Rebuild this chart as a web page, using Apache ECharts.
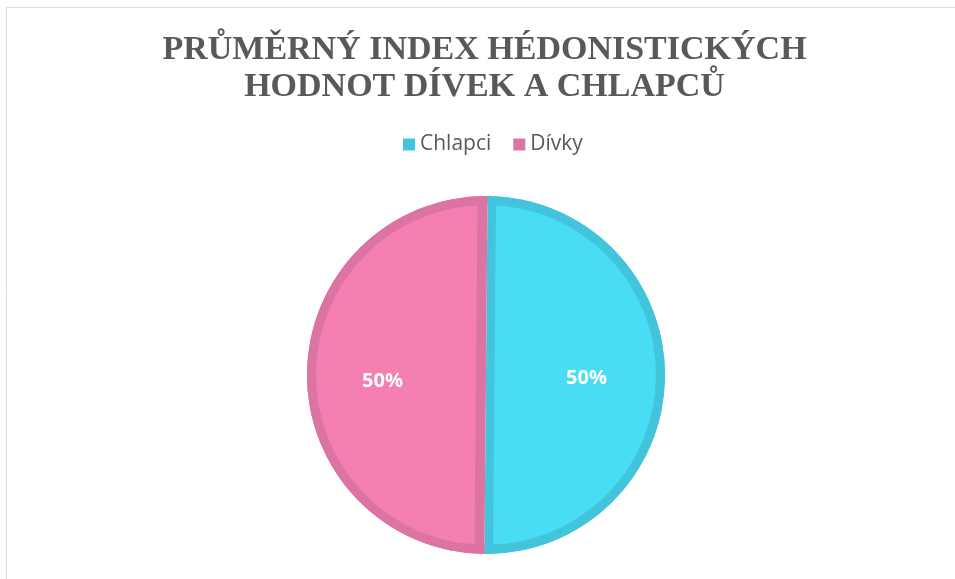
<!DOCTYPE html>
<html>
<head>
<meta charset="utf-8">
<style>
  html, body { margin: 0; padding: 0; background: #ffffff; }
  #chart { width: 955px; height: 579px; }
</style>
<script src="https://cdn.jsdelivr.net/npm/echarts@6/dist/echarts.min.js"></script>
</head>
<body>
<div id="chart"></div>
<script>
// ---- data ----
const titleText = 'PRŮMĚRNÝ INDEX HÉDONISTICKÝCH\nHODNOT DÍVEK A CHLAPCŮ';
const categories = ['Chlapci', 'Dívky'];
const values = [50, 50];
const fillColors = ['#48dcf5', '#f47fb0'];
const edgeColors = ['#43c4dd', '#dc74a3'];

// ---- layout ----
const CX = 486, CY = 375, R = 179, RING = 9;
const START = 89.5;

const chart = echarts.init(document.getElementById('chart'), null, { renderer: 'canvas' });

function items(colorFn, extra) {
  return categories.map((name, i) => Object.assign({
    name: name,
    value: values[i],
    itemStyle: { color: colorFn(i) }
  }, extra ? extra(i) : {}));
}

const base = {
  type: 'pie',
  startAngle: START,
  clockwise: true,
  silent: true,
  animation: false,
  label: { show: false },
  labelLine: { show: false },
  emphasis: { disabled: true },
  itemStyle: { borderWidth: 0 }
};

const labelStyle = {
  position: 'inside',
  formatter: p => Math.round(p.percent) + '%',
  fontFamily: '"Open Sans", sans-serif',
  fontWeight: 'bold',
  fontSize: 20,
  color: '#ffffff'
};

function labelSeries(idx, center) {
  return Object.assign({}, base, {
    name: 'labels' + idx, z: 4,
    center: center, radius: 200,
    data: items(() => 'rgba(0,0,0,0)', i => ({
      label: Object.assign({ show: i === idx }, labelStyle)
    }))
  });
}

const option = {
  backgroundColor: '#ffffff',
  animation: false,
  title: {
    text: titleText,
    left: 484.5,
    textAlign: 'center',
    top: 32,
    padding: 0,
    textStyle: {
      fontFamily: '"Liberation Serif", "Times New Roman", serif',
      fontWeight: 'bold',
      fontSize: 34,
      lineHeight: 37,
      color: '#595959'
    }
  },
  legend: {
    top: 129,
    left: 398,
    padding: 5,
    icon: 'rect',
    itemWidth: 12,
    itemHeight: 12,
    itemGap: 22,
    selectedMode: false,
    textStyle: {
      fontFamily: '"Open Sans", sans-serif',
      fontSize: 21,
      color: '#595959'
    },
    data: categories.map((n, i) => ({ name: n, itemStyle: { color: edgeColors[i] } }))
  },
  graphic: [{
    type: 'polyline',
    silent: true,
    shape: { points: [[6.5, 590], [6.5, 7.5], [960, 7.5]] },
    style: { stroke: '#d9d9d9', lineWidth: 1, fill: null }
  }],
  series: [
    // dark base disc
    Object.assign({}, base, {
      name: 'base', z: 1,
      center: [CX, CY], radius: R,
      data: items(i => edgeColors[i])
    }),
    // light pink half (inset from the split)
    Object.assign({}, base, {
      name: 'pinkFill', z: 2,
      center: [CX - 10, CY], radius: R - RING - 1,
      data: items(i => i === 1 ? fillColors[1] : 'rgba(0,0,0,0)')
    }),
    // light cyan half (inset from the split)
    Object.assign({}, base, {
      name: 'cyanFill', z: 2,
      center: [CX + 8.5, CY], radius: R - RING,
      data: items(i => i === 0 ? fillColors[0] : 'rgba(0,0,0,0)')
    }),
    // dark outer ring
    Object.assign({}, base, {
      name: 'ring', z: 3,
      center: [CX, CY], radius: [R - RING, R],
      data: items(i => edgeColors[i])
    }),
    labelSeries(0, [CX - 2.5, 377]),
    labelSeries(1, [CX - 0.5, 382])
  ]
};

chart.setOption(option);
</script>
</body>
</html>
